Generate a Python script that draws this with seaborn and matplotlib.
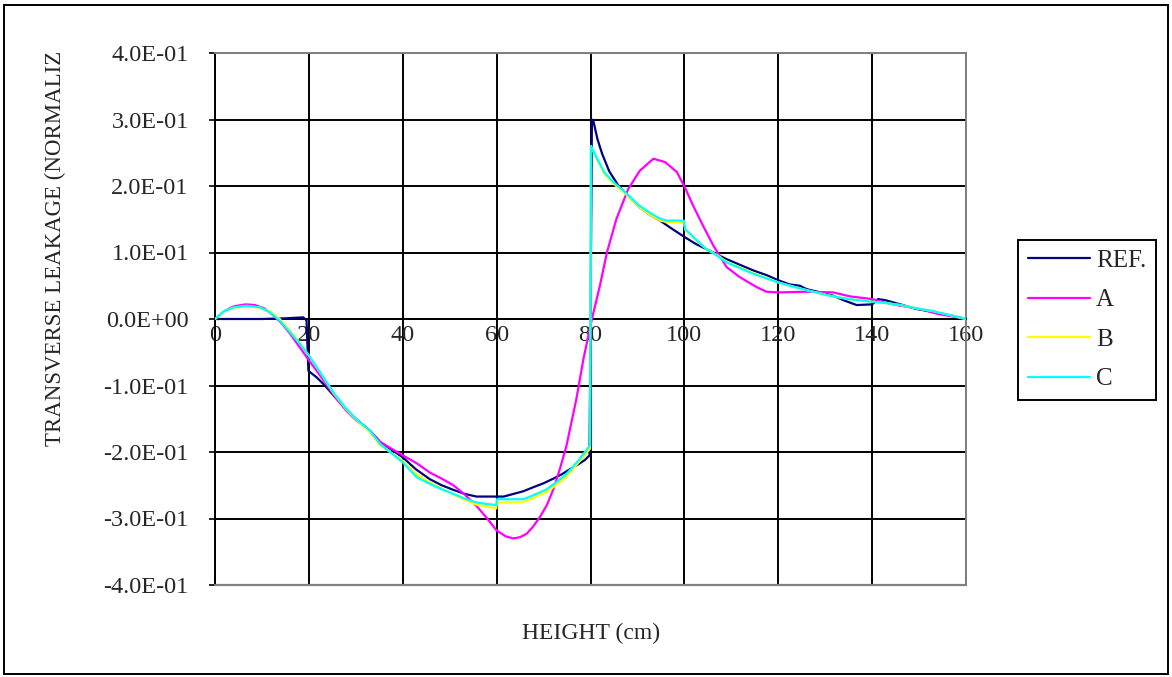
import matplotlib
matplotlib.use("Agg")
import matplotlib.pyplot as plt
import seaborn as sns
import pandas as pd
from matplotlib.lines import Line2D
from matplotlib.patches import Rectangle
from matplotlib.ticker import FuncFormatter

sns.set_theme(style="white")
plt.rcParams["font.family"] = ["Liberation Serif", "DejaVu Serif"]

# ---------------- data ----------------
series_names = ["REF.", "A", "B", "C"]
x_ticks = [0, 20, 40, 60, 80, 100, 120, 140, 160]
y_ticks = [-0.4, -0.3, -0.2, -0.1, 0.0, 0.1, 0.2, 0.3, 0.4]

x_ref = [0, 5, 10, 15, 18.8, 19.5, 19.9, 21.7, 23.4, 25.4,
         27.4, 30, 33, 35.2, 40, 42.8, 45.8, 48.3, 50.8, 53.2,
         55.7, 60, 61.5, 63.6, 65.7, 67.8, 70, 72.1, 74, 75.6,
         77.5, 78.8, 79.8, 80.3, 80.6, 81.5, 82.5, 84, 86, 88,
         90.5, 92.6, 94.8, 97.5, 100.1, 102.4, 104.7, 107, 109, 112,
         114.7, 117.5, 120.1, 122.4, 124.6, 126, 129, 131.7, 134, 136.7,
         140, 141.3, 143, 144.5, 147, 149.5, 152, 154.4, 157, 160]
y_ref = [0, 0, 0, 0.001, 0.0025, -0.002, -0.078, -0.088, -0.1, -0.116,
         -0.132, -0.15, -0.168, -0.185, -0.208, -0.226, -0.241, -0.25, -0.257, -0.263,
         -0.267, -0.267, -0.267, -0.263, -0.259, -0.253, -0.247, -0.240, -0.233, -0.226,
         -0.218, -0.212, -0.205, 0.300, 0.298, 0.270, 0.248, 0.222, 0.200, 0.185,
         0.168, 0.157, 0.148, 0.135, 0.123, 0.113, 0.105, 0.097, 0.090, 0.081,
         0.073, 0.066, 0.058, 0.052, 0.050, 0.045, 0.040, 0.035, 0.028, 0.021,
         0.022, 0.030, 0.028, 0.025, 0.020, 0.015, 0.012, 0.0085, 0.005, 0]

x_a = [0, 2, 4, 6.5, 8.5, 10.5, 12, 14, 16, 18,
       20, 22.4, 25.2, 28, 30, 33, 35.2, 40, 43, 45.8,
       48.3, 50.8, 53.2, 55.7, 58, 60, 62, 63.6, 65, 66.4,
       67.8, 69.2, 70.7, 72.1, 73.5, 74.9, 77, 78.5, 80.3, 82,
       83.5, 85.5, 88, 90.5, 93.4, 95.9, 98.4, 100.1, 101.9, 104,
       106.2, 109, 111.8, 115.4, 117.5, 120, 126, 131.7, 135.3, 140,
       143.1, 146, 149.5, 154.4, 157, 160]
y_a = [0, 0.012, 0.019, 0.022, 0.021, 0.016, 0.008, -0.005, -0.022, -0.042,
       -0.062, -0.085, -0.113, -0.138, -0.152, -0.168, -0.185, -0.205, -0.217, -0.231,
       -0.24, -0.25, -0.264, -0.281, -0.3, -0.318, -0.327, -0.33, -0.328, -0.323,
       -0.312, -0.298, -0.28, -0.256, -0.225, -0.19, -0.12, -0.06, 0.0, 0.05,
       0.1, 0.15, 0.195, 0.223, 0.241, 0.236, 0.221, 0.198, 0.17, 0.14,
       0.11, 0.078, 0.063, 0.048, 0.041, 0.040, 0.041, 0.040, 0.034, 0.030,
       0.024, 0.020, 0.016, 0.007, 0.004, 0]

x_c = [0, 1.8, 3.9, 6.75, 9.6, 11.7, 13.8, 16, 18.1, 20,
       22.4, 25.2, 28, 30, 33, 35.2, 40, 43, 45.8, 48.3,
       50.8, 53.2, 55.7, 59.9, 60.1, 63, 65.7, 68.2, 70.7, 72.8,
       74.9, 77.4, 79.9, 80.1, 81.5, 83, 85, 87.5, 90.5, 92.6,
       94.8, 96.2, 99.9, 100.2, 102.4, 104.7, 107, 109, 112, 114.7,
       117.5, 120, 124.6, 128, 131.7, 135, 140, 143, 146, 149.5,
       152.9, 156.5, 160]
y_c = [0, 0.011, 0.0175, 0.02, 0.0175, 0.01, -0.0025, -0.02, -0.0375, -0.055,
       -0.08, -0.11, -0.135, -0.15, -0.168, -0.188, -0.2155, -0.238, -0.248, -0.256,
       -0.263, -0.27, -0.276, -0.28, -0.271, -0.271, -0.271, -0.264, -0.256, -0.245,
       -0.233, -0.213, -0.19, 0.26, 0.24, 0.22, 0.205, 0.19, 0.17, 0.16,
       0.151, 0.148, 0.148, 0.135, 0.12, 0.105, 0.095, 0.085, 0.076, 0.068,
       0.061, 0.055, 0.046, 0.04, 0.034, 0.03, 0.026, 0.024, 0.021, 0.016,
       0.012, 0.006, 0]

x_b = x_c
y_b = [0, 0.011, 0.017, 0.019, 0.017, 0.011, 0.0, -0.018, -0.036, -0.055,
       -0.08, -0.111, -0.136, -0.151, -0.17, -0.19, -0.213, -0.234, -0.246, -0.255,
       -0.264, -0.272, -0.279, -0.285, -0.276, -0.276, -0.275, -0.268, -0.26, -0.249,
       -0.237, -0.216, -0.195, 0.26, 0.238, 0.218, 0.203, 0.188, 0.168, 0.157,
       0.148, 0.146, 0.145, 0.134, 0.119, 0.105, 0.096, 0.086, 0.077, 0.069,
       0.062, 0.055, 0.046, 0.04, 0.034, 0.03, 0.026, 0.024, 0.021, 0.016,
       0.012, 0.006, 0]

colors = {"REF.": "#000080", "A": "#FF00FF", "B": "#FFFF00", "C": "#00FFFF"}

frames = []
for name, xs, ys in [("REF.", x_ref, y_ref), ("A", x_a, y_a),
                     ("B", x_b, y_b), ("C", x_c, y_c)]:
    frames.append(pd.DataFrame({"height": xs, "leak": ys, "series": name}))
df = pd.concat(frames, ignore_index=True)

# ---------------- figure ----------------
W, H = 1172, 677
fig = plt.figure(figsize=(W / 100, H / 100), dpi=100)
fig.patch.set_facecolor("white")
ax = fig.add_axes([215 / W, 1 - 585 / H, (966 - 215) / W, (585 - 53) / H])

sns.lineplot(data=df, x="height", y="leak", hue="series", hue_order=series_names,
             palette=colors, estimator=None, sort=False, linewidth=1.6,
             legend=False, ax=ax, zorder=4)

ax.set_xlim(0, 160)
ax.set_ylim(-0.4, 0.4)
ax.set_xticks(x_ticks)
ax.set_yticks(y_ticks)
ax.yaxis.set_major_formatter(FuncFormatter(lambda v, p: "{:.1E}".format(0.0 if abs(v) < 1e-12 else v)))
ax.xaxis.set_major_formatter(FuncFormatter(lambda v, p: "{:d}".format(int(round(v)))))

ax.grid(True, color="black", linewidth=1.4)
ax.set_axisbelow(True)

gray = "#808080"
for s in ["top", "right"]:
    ax.spines[s].set_color(gray)
    ax.spines[s].set_linewidth(1.4)
ax.spines["left"].set_color("black")
ax.spines["left"].set_linewidth(1.4)
ax.spines["bottom"].set_position(("data", 0))
ax.spines["bottom"].set_color("black")
ax.spines["bottom"].set_linewidth(1.4)
ax.axhline(-0.4, color=gray, linewidth=1.6, zorder=3, clip_on=False)

ax.tick_params(axis="y", direction="out", length=4, width=1.2, color="black",
               pad=15, labelsize=17.5, left=True)
ax.tick_params(axis="x", direction="out", length=0, pad=4, labelsize=17.5, bottom=True)

ax.set_xlabel("HEIGHT (cm)", fontsize=17)
ax.set_ylabel("TRANSVERSE LEAKAGE (NORMALIZ", fontsize=16.5)
ax.xaxis.set_label_coords((591 - 215) / 751, (585 - 633) / 532)
ax.yaxis.set_label_coords((55 - 215) / 751, (585 - 248) / 532)
ax.xaxis.label.set_va("center")
ax.yaxis.label.set_va("center")

handles = [Line2D([0], [0], color=colors[n], linewidth=1.6) for n in series_names]
leg = fig.legend(handles, series_names, loc="upper left",
                 bbox_to_anchor=(1018 / W, 1 - 240 / H), borderaxespad=0,
                 fontsize=18, frameon=True, fancybox=False, framealpha=1,
                 edgecolor="black", handlelength=2.5, handletextpad=0.25,
                 labelspacing=0.68, borderpad=0.38)
leg.get_frame().set_linewidth(1.4)

fig.patches.append(Rectangle((4 / W, 3 / H), (W - 8) / W, (H - 8) / H,
                             transform=fig.transFigure, fill=False,
                             edgecolor="black", linewidth=1.4))

fig.savefig("out.png", dpi=100, facecolor="white")
